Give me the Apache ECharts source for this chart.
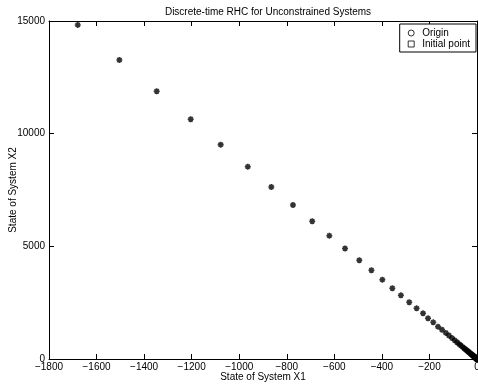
<!DOCTYPE html>
<html>
<head>
<meta charset="utf-8">
<script src="https://cdn.jsdelivr.net/npm/echarts@6/dist/echarts.min.js"></script>
<style>html,body{margin:0;padding:0;background:#fff}#c{width:478px;height:385px}</style>
</head>
<body>
<div id="c"></div>
<script>
// Trajectory
var x1 = [-1679, -1504, -1347, -1204, -1078, -964, -865, -774, -693, -621, -555, -495, -444, -398, -356, -320, -285, -254, -227, -206, -184, -164, -147, -131, -118, -105, -94, -84, -75, -68, -60, -54, -48, -43, -39, -35, -31, -28, -25, -22, -20, -18, -16, -14, -12.6, -11.3, -10.1, -9.0, -8.1, -7.2, -6.5, -5.8, -5.2, -4.6, -4.1, -3.7, -3.3, -3.0, -2.7, -2.4, -2.1, -1.9, -1.7, -1.5, -1.4, -1.2, -1.1, -1.0];
var x2 = [14825, 13271, 11882, 10639, 9512, 8535, 7634, 6835, 6112, 5473, 4905, 4381, 3937, 3520, 3138, 2827, 2517, 2250, 2028, 1806, 1629, 1434, 1298, 1157, 1042, 927, 830, 742, 662, 600, 530, 477, 424, 380, 344, 309, 274, 247, 221, 194, 177, 159, 141, 124, 111, 100, 89, 79, 72, 64, 57, 51, 46, 41, 36, 33, 29, 26, 24, 21, 19, 17, 15, 13, 12, 11, 10, 9];
var originPt = [[0, 0]];
var initialPt = [];
var xTicks = {min: -1800, max: 0, interval: 200};
var yTicks = {min: 0, max: 15000, interval: 5000};

var traj = x1.map(function (v, i) { return [v, x2[i]]; });
var star = 'path://M5,0L5,10M0,5L10,5M1.5,1.5L8.5,8.5M1.5,8.5L8.5,1.5';
function fmt(v) { return String(v).replace('-', '\u2212'); }
var font = 'Liberation Sans, Arial, Helvetica, sans-serif';
var axLine = {show: true, onZero: false, lineStyle: {color: '#000', width: 1}};
var tick = {show: true, inside: true, length: 5, lineStyle: {color: '#000'}};

var chart = echarts.init(document.getElementById('c'), null, {renderer: 'canvas'});
chart.setOption({
  animation: false,
  backgroundColor: '#fff',
  textStyle: {fontFamily: font},
  title: {
    text: 'Discrete-time RHC for Unconstrained Systems',
    left: 263, top: 2, textAlign: 'center',
    textStyle: {fontSize: 10, fontWeight: 'normal', color: '#000', fontFamily: font}
  },
  legend: {
    orient: 'vertical', right: 2, top: 24,
    backgroundColor: '#fff', borderColor: '#000', borderWidth: 1,
    padding: [4, 6, 3, 8], itemGap: 1, itemWidth: 6, itemHeight: 6,
    textStyle: {fontSize: 10, color: '#000', fontFamily: font, padding: [0, 0, 0, 3]},
    data: [
      {name: 'Origin', icon: 'circle', itemStyle: {color: '#fff', borderColor: '#000', borderWidth: 1}},
      {name: 'Initial point', icon: 'rect', itemStyle: {color: '#fff', borderColor: '#000', borderWidth: 1}}
    ]
  },
  grid: {left: 49, right: 1, top: 21, bottom: 26, containLabel: false, outerBoundsMode: 'none'},
  xAxis: [{
    type: 'value', min: xTicks.min, max: xTicks.max, interval: xTicks.interval,
    name: 'State of System X1', nameLocation: 'middle', nameGap: 13, nameMoveOverlap: false,
    nameTextStyle: {fontSize: 10, color: '#000', fontFamily: font},
    axisLine: axLine, axisTick: tick, splitLine: {show: false},
    axisLabel: {color: '#000', fontSize: 10, margin: 3, formatter: fmt, fontFamily: font}
  }, {
    type: 'value', position: 'top', min: xTicks.min, max: xTicks.max, interval: xTicks.interval,
    axisLine: axLine, axisTick: tick, splitLine: {show: false}, axisLabel: {show: false}
  }],
  yAxis: [{
    type: 'value', min: yTicks.min, max: yTicks.max, interval: yTicks.interval,
    name: 'State of System X2', nameLocation: 'middle', nameGap: 31, nameMoveOverlap: false,
    nameTextStyle: {fontSize: 10, color: '#000', fontFamily: font},
    axisLine: axLine, axisTick: tick, splitLine: {show: false},
    axisLabel: {color: '#000', fontSize: 10, margin: 4, formatter: fmt, fontFamily: font}
  }, {
    type: 'value', position: 'right', min: yTicks.min, max: yTicks.max, interval: yTicks.interval,
    axisLine: axLine, axisTick: tick, splitLine: {show: false}, axisLabel: {show: false}
  }],
  series: [{
    name: 'Origin', type: 'scatter', data: originPt, symbol: 'circle', symbolSize: 6,
    itemStyle: {color: '#fff', borderColor: '#000', borderWidth: 1}, z: 1
  }, {
    name: 'Initial point', type: 'scatter', data: initialPt, symbol: 'rect', symbolSize: 6,
    itemStyle: {color: '#fff', borderColor: '#000', borderWidth: 1}, z: 1
  }, {
    name: 'Trajectory', type: 'scatter', data: traj, symbol: star, symbolSize: 6,
    itemStyle: {color: '#000', borderColor: '#000', borderWidth: 1.6}, z: 3,
    clip: false
  }]
});
</script>
</body>
</html>
